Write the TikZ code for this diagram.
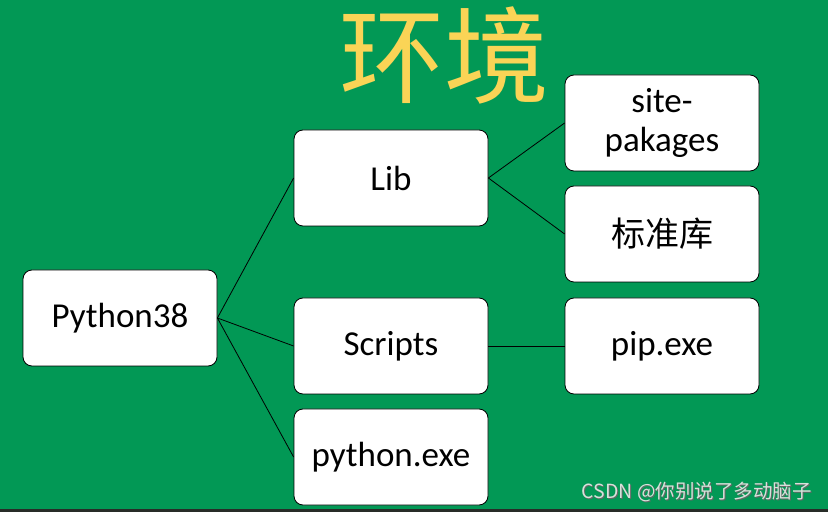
\documentclass[tikz,border=0pt]{standalone}
\usepackage{fontspec}
\setmainfont{Carlito}
\newfontfamily\cjk{Noto Sans CJK SC}
\definecolor{bggreen}{RGB}{2,152,85}
\definecolor{titleyellow}{RGB}{250,212,86}
\definecolor{stripdark}{RGB}{40,44,40}
\definecolor{wmgray}{RGB}{215,225,218}
\begin{document}
\begin{tikzpicture}[x=1pt,y=1pt,
  box/.style={draw=black,line width=0.8pt,fill=white,rounded corners=9pt,
    minimum width=194pt,minimum height=96pt,inner sep=0pt,align=center,
    font=\fontsize{35}{39}\selectfont},
  link/.style={draw=black,line width=0.8pt}]
\useasboundingbox (0,0) rectangle (828,512);
\fill[bggreen] (0,0) rectangle (828,512);
\fill[stripdark] (0,0) rectangle (828,3);
\node[text=titleyellow,font=\cjk\fontsize{105}{106}\selectfont,inner sep=0pt] (title) at (444,457) {环境};
\node[box] (py) at (120,194) {Python38};
\node[box] (lib) at (391,334) {Lib};
\node[box] (scripts) at (391,166) {Scripts};
\node[box] (pyexe) at (391,55) {python.exe};
\node[box] (site) at (662,389) {site-\\pakages};
\node[box,font=\cjk\fontsize{34}{38}\selectfont] (std) at (662,278) {标准库};
\node[box] (pip) at (662,166) {pip.exe};
\draw[link] (py.east) -- (lib.west);
\draw[link] (py.east) -- (scripts.west);
\draw[link] (py.east) -- (pyexe.west);
\draw[link] (lib.east) -- (site.west);
\draw[link] (lib.east) -- (std.west);
\draw[link] (scripts.east) -- (pip.west);
\node[text=black!60,font=\cjk\fontsize{19.5}{20}\selectfont,inner sep=0pt,anchor=east] at (812.7,19.3) {CSDN @你别说了多动脑子};
\node[text=wmgray,font=\cjk\fontsize{19.5}{20}\selectfont,inner sep=0pt,anchor=east] (wm) at (812,20) {CSDN @你别说了多动脑子};
\end{tikzpicture}
\end{document}
